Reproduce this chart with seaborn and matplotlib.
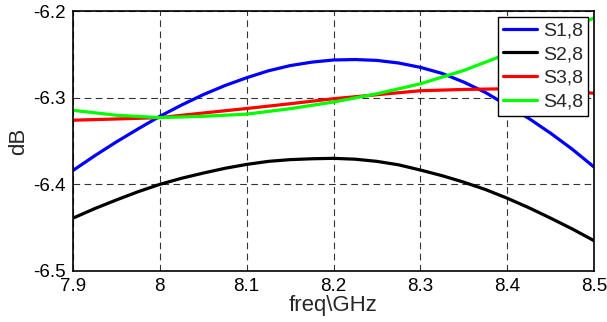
import pandas as pd
import seaborn as sns
import matplotlib.pyplot as plt

# valores
freq_fino = [7.9, 7.925, 7.95, 7.975, 8.0, 8.025, 8.05, 8.075, 8.1, 8.125, 8.15, 8.175, 8.2,
             8.225, 8.25, 8.275, 8.3, 8.325, 8.35, 8.375, 8.4, 8.425, 8.45, 8.475, 8.5]
freq = [7.9, 7.95, 8.0, 8.05, 8.1, 8.15, 8.2, 8.25, 8.3, 8.35, 8.4, 8.45, 8.5]
s18 = [-6.384, -6.367, -6.351, -6.336, -6.3215, -6.3085, -6.2965, -6.286, -6.277, -6.269, -6.263,
       -6.259, -6.2565, -6.256, -6.257, -6.260, -6.265, -6.272, -6.282, -6.294, -6.309, -6.324,
       -6.341, -6.3595, -6.380]
s28 = [-6.439, -6.428, -6.418, -6.4085, -6.400, -6.393, -6.387, -6.3815, -6.377, -6.3735, -6.3715,
       -6.3705, -6.370, -6.371, -6.3735, -6.3775, -6.3835, -6.390, -6.3975, -6.406, -6.416, -6.427,
       -6.439, -6.4515, -6.465]
s38 = [-6.326, -6.3246, -6.323, -6.3177, -6.3125, -6.307, -6.3012, -6.2966, -6.292, -6.2905, -6.2897, -6.2897, -6.295]
s48 = [-6.3146, -6.3203, -6.323, -6.3215, -6.319, -6.3127, -6.305, -6.2955, -6.284, -6.2686, -6.2494, -6.23, -6.208]
nomes = ['S1,8', 'S2,8', 'S3,8', 'S4,8']
cores = ['#0000ff', '#000000', '#ff0000', '#00ff00']

xticks = [7.9, 8.0, 8.1, 8.2, 8.3, 8.4, 8.5]
xlabels = ['7.9', '8', '8.1', '8.2', '8.3', '8.4', '8.5']
yticks = [-6.5, -6.4, -6.3, -6.2]
ylabels = ['-6.5', '-6.4', '-6.3', '-6.2']

df = pd.concat([
    pd.DataFrame({'freq': freq_fino, 'dB': s18, 'serie': nomes[0]}),
    pd.DataFrame({'freq': freq_fino, 'dB': s28, 'serie': nomes[1]}),
    pd.DataFrame({'freq': freq, 'dB': s38, 'serie': nomes[2]}),
    pd.DataFrame({'freq': freq, 'dB': s48, 'serie': nomes[3]}),
], ignore_index=True)

sns.set_style("white")
plt.rcParams['font.family'] = ['Liberation Sans', 'DejaVu Sans']

fig = plt.figure(figsize=(6.07, 3.22), dpi=100)
ax = fig.add_axes([0.1203, 0.1584, 0.8583, 0.8074])

sns.lineplot(data=df, x='freq', y='dB', hue='serie', palette=dict(zip(nomes, cores)),
             linewidth=2.3, ax=ax)

ax.set_xlim(7.9, 8.5)
ax.set_ylim(-6.5, -6.2)
ax.set_xticks(xticks)
ax.set_xticklabels(xlabels)
ax.set_yticks(yticks)
ax.set_yticklabels(ylabels)
ax.tick_params(direction='in', length=4, labelsize=13.5, colors='black', pad=5)
ax.set_xlabel('freq\\GHz', fontsize=16, labelpad=0)
ax.set_ylabel('dB', fontsize=16, labelpad=3)

ax.grid(True, color='black', linestyle=(0, (6, 4)), linewidth=0.8, alpha=0.8)
for s in ax.spines.values():
    s.set_color('black')
    s.set_linewidth(1.2)

ax.legend(loc='upper right', fontsize=14, frameon=True, fancybox=False, framealpha=1,
          edgecolor='black', handlelength=1.75, borderaxespad=0.3, borderpad=0.25,
          labelspacing=0.32, handletextpad=0.3, title=None)

fig.savefig('out.png', dpi=100)
